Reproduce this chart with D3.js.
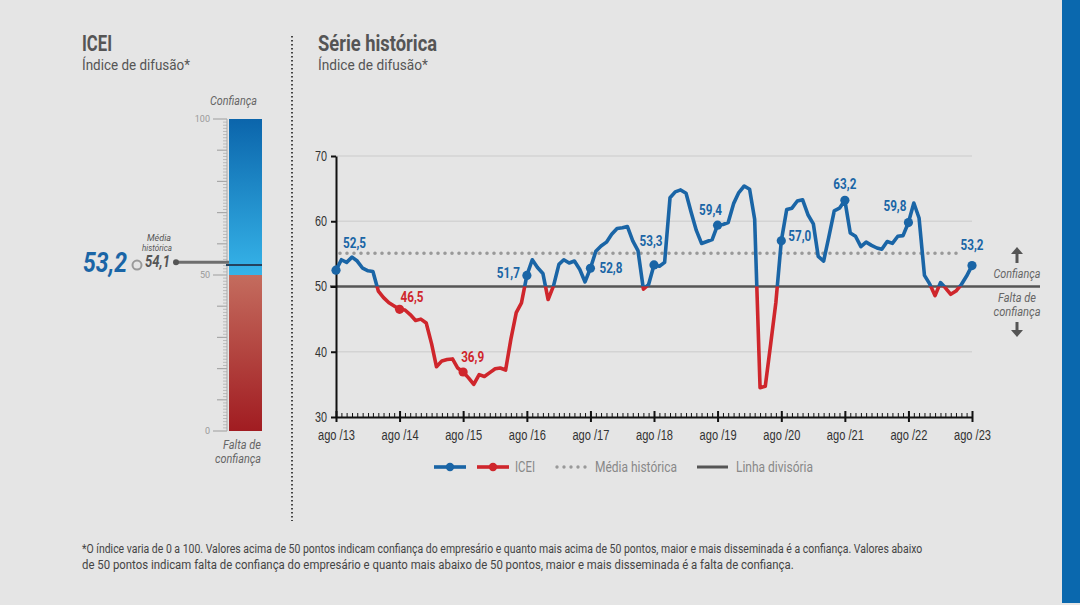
<!DOCTYPE html>
<html>
<head>
<meta charset="utf-8">
<script src="https://cdn.jsdelivr.net/npm/d3@7"></script>
<style>
  html, body { margin: 0; padding: 0; background: #e5e5e5; }
  svg { display: block; font-family: Roboto, "Noto Sans", sans-serif; }
</style>
</head>
<body>
<div id="chart"></div>
<script>
// ICEI series, monthly from ago/2013 to ago/2023
const inicio = new Date(2013, 7, 1);
const icei = [
  52.5, 54.1, 53.7, 54.5, 53.9, 52.8, 52.4, 52.3, 49.3, 48.3, 47.5, 47.0,
  46.5, 46.4, 45.7, 44.8, 45.0, 44.4, 41.2, 37.7, 38.6, 38.8, 38.9, 37.5,
  36.9, 36.0, 35.0, 36.5, 36.2, 36.8, 37.4, 37.5, 37.2, 41.9, 46.0, 47.5,
  51.7, 54.1, 52.9, 52.0, 48.0, 50.1, 53.4, 54.1, 53.6, 53.9, 52.6, 50.7,
  52.8, 55.4, 56.2, 56.8, 58.0, 58.9, 59.0, 59.2, 57.0, 55.5, 49.6, 50.3,
  53.3, 53.1, 53.7, 63.6, 64.5, 64.8, 64.3, 61.5, 58.6, 56.6, 56.9, 57.2,
  59.4, 59.5, 59.8, 62.7, 64.4, 65.4, 64.9, 60.3, 34.5, 34.7, 41.2, 47.6,
  57.0, 61.8, 62.0, 63.1, 63.3, 61.0, 59.6, 54.6, 53.9, 57.6, 61.6, 62.0,
  63.2, 58.2, 57.7, 56.1, 56.8, 56.3, 55.9, 55.7, 56.9, 56.6, 57.7, 57.8,
  59.8, 62.8, 60.5, 51.7, 50.4, 48.6, 50.6, 49.8, 48.8, 49.3, 50.3, 51.6,
  53.2
];
const yTicks = [30, 40, 50, 60, 70];
const gaugeTicks = [0, 50, 100];
const linhaDivisoria = 50;
const mediaGrafico = 55.1;     // dotted line as drawn in the chart
const mediaHistorica = 54.1;   // value shown on the gauge
const valorAtual = 53.2;

// label placement for the August points (layout only)
const rotulos = [
  {i: 0,   dx: 7,  dy: -22, a: "start"},
  {i: 12,  dx: 1,  dy: -7,  a: "start"},
  {i: 24,  dx: -2, dy: -10, a: "start"},
  {i: 36,  dx: -7, dy: 3,   a: "end"},
  {i: 48,  dx: 9,  dy: 5,   a: "start"},
  {i: 60,  dx: -3, dy: -19, a: "middle"},
  {i: 72,  dx: -7, dy: -10, a: "middle"},
  {i: 84,  dx: 7,  dy: 0,   a: "start"},
  {i: 96,  dx: 0,  dy: -11, a: "middle"},
  {i: 108, dx: -2, dy: -12, a: "end"},
  {i: 120, dx: 0,  dy: -16, a: "middle"}
];

const AZUL = "#1a65a6", VERMELHO = "#cf262c", CINZA = "#555";
const fmt = v => d3.format(".1f")(v).replace(".", ",");
// squeeze text to the condensed widths of the original
const aperta = (sel, w) => sel.attr("textLength", w).attr("lengthAdjust", "spacingAndGlyphs");

const data = icei.map((v, i) => ({date: d3.timeMonth.offset(inicio, i), v: v}));

const svg = d3.select("#chart").append("svg")
  .attr("width", 1080).attr("height", 605);

svg.append("rect").attr("width", 1080).attr("height", 605).attr("fill", "#e5e5e5");
svg.append("rect").attr("x", 1062).attr("y", 0).attr("width", 18).attr("height", 603).attr("fill", "#0a68ae");

// ---------- left panel: gauge ----------
svg.append("text").attr("x", 82).attr("y", 51).text("ICEI")
  .style("font-size", "22px").style("font-weight", "bold").attr("fill", "#555").call(aperta, 30);
svg.append("text").attr("x", 82).attr("y", 70).text("Índice de difusão*")
  .style("font-size", "15.5px").attr("fill", "#555").call(aperta, 108);

const gy = d3.scaleLinear().domain([0, 100]).range([431, 119]);
const defs = svg.append("defs");
const gBlue = defs.append("linearGradient").attr("id", "gBlue").attr("x1", 0).attr("x2", 0).attr("y1", 0).attr("y2", 1);
gBlue.append("stop").attr("offset", "0%").attr("stop-color", "#0b65ab");
gBlue.append("stop").attr("offset", "100%").attr("stop-color", "#36b4e9");
const gRed = defs.append("linearGradient").attr("id", "gRed").attr("x1", 0).attr("x2", 0).attr("y1", 0).attr("y2", 1);
gRed.append("stop").attr("offset", "0%").attr("stop-color", "#c46c5e");
gRed.append("stop").attr("offset", "100%").attr("stop-color", "#a11c21");

svg.append("rect").attr("x", 229).attr("y", gy(100)).attr("width", 33)
  .attr("height", gy(linhaDivisoria) - gy(100)).attr("fill", "url(#gBlue)");
svg.append("rect").attr("x", 229).attr("y", gy(linhaDivisoria)).attr("width", 33)
  .attr("height", gy(0) - gy(linhaDivisoria)).attr("fill", "url(#gRed)");

const gaugeAxis = svg.append("g").attr("transform", "translate(227,0)");
gaugeAxis.append("line").attr("y1", gy(0)).attr("y2", gy(100)).attr("stroke", "#a8a8a8").attr("stroke-width", 1);
gaugeAxis.selectAll("line.t").data(d3.range(0, 101)).join("line")
  .attr("class", "t")
  .attr("x1", d => gaugeTicks.includes(d) ? -14 : (d % 10 === 0 ? -10 : -4)).attr("x2", 0)
  .attr("y1", d => gy(d)).attr("y2", d => gy(d))
  .attr("stroke", "#a8a8a8").attr("stroke-width", d => d % 10 === 0 ? 1.2 : 0.7);
gaugeAxis.selectAll("text").data(gaugeTicks).join("text")
  .attr("x", -17).attr("y", d => gy(d) + 3).attr("text-anchor", "end")
  .text(d => d).style("font-size", "9px").attr("fill", "#999");

svg.append("text").attr("x", 210).attr("y", 105).text("Confiança")
  .style("font-size", "12.5px").style("font-style", "italic").attr("fill", "#666").call(aperta, 47);
svg.append("text").attr("x", 223).attr("y", 449).text("Falta de")
  .style("font-size", "12.5px").style("font-style", "italic").attr("fill", "#666").call(aperta, 38);
svg.append("text").attr("x", 215).attr("y", 463).text("confiança")
  .style("font-size", "12.5px").style("font-style", "italic").attr("fill", "#666").call(aperta, 46);

// historical average marker
svg.append("line").attr("x1", 176).attr("x2", 229).attr("y1", gy(mediaHistorica)).attr("y2", gy(mediaHistorica))
  .attr("stroke", "#6e6e6e").attr("stroke-width", 3);
svg.append("circle").attr("cx", 176).attr("cy", gy(mediaHistorica)).attr("r", 3).attr("fill", "#555");
svg.append("line").attr("x1", 226).attr("x2", 262).attr("y1", gy(valorAtual)).attr("y2", gy(valorAtual))
  .attr("stroke", "#24425e").attr("stroke-width", 2);
svg.append("text").attr("x", 147).attr("y", 241).text("Média")
  .style("font-size", "9.5px").style("font-style", "italic").attr("fill", "#555").call(aperta, 24);
svg.append("text").attr("x", 142).attr("y", 251).text("histórica")
  .style("font-size", "9.5px").style("font-style", "italic").attr("fill", "#555").call(aperta, 30);
svg.append("text").attr("x", 145).attr("y", 267).text(fmt(mediaHistorica))
  .style("font-size", "16px").style("font-weight", "bold").style("font-style", "italic").attr("fill", "#555").call(aperta, 25);
svg.append("circle").attr("cx", 137).attr("cy", gy(valorAtual)).attr("r", 4.5)
  .attr("fill", "none").attr("stroke", "#9a9a9a").attr("stroke-width", 2);
svg.append("text").attr("x", 83).attr("y", 272).text(fmt(valorAtual))
  .style("font-size", "27px").style("font-weight", "bold").style("font-style", "italic").attr("fill", AZUL).call(aperta, 44);

// dotted divider
svg.append("line").attr("x1", 292).attr("x2", 292).attr("y1", 36).attr("y2", 521)
  .attr("stroke", "#444").attr("stroke-width", 2).attr("stroke-dasharray", "1.5 2.5");

// ---------- right panel: time series ----------
svg.append("text").attr("x", 318).attr("y", 51).text("Série histórica")
  .style("font-size", "22px").style("font-weight", "bold").attr("fill", "#555").call(aperta, 119);
svg.append("text").attr("x", 318).attr("y", 70).text("Índice de difusão*")
  .style("font-size", "15.5px").attr("fill", "#555").call(aperta, 110);

const x = d3.scaleTime().domain([data[0].date, data[data.length - 1].date]).range([336, 972]);
const y = d3.scaleLinear().domain([30, 70]).range([417, 156]);

// gridlines
svg.append("g").selectAll("line").data(yTicks.filter(d => d !== 30 && d !== linhaDivisoria)).join("line")
  .attr("x1", 336).attr("x2", 972).attr("y1", d => y(d)).attr("y2", d => y(d))
  .attr("stroke", "#d3d3d3").attr("stroke-width", 1.5);

// historical average (dotted)
svg.append("line").attr("x1", 340).attr("x2", 960).attr("y1", y(mediaGrafico)).attr("y2", y(mediaGrafico))
  .attr("stroke", "#999").attr("stroke-width", 3.6).attr("stroke-linecap", "round").attr("stroke-dasharray", "0 7");

// dividing line at 50
svg.append("line").attr("x1", 330).attr("x2", 1040).attr("y1", y(linhaDivisoria)).attr("y2", y(linhaDivisoria))
  .attr("stroke", CINZA).attr("stroke-width", 2.5);

// y axis
const yAxis = svg.append("g").attr("transform", "translate(336,0)")
  .call(d3.axisLeft(y).tickValues(yTicks).tickSize(5).tickSizeOuter(0));
yAxis.select(".domain").attr("stroke", "#111").attr("stroke-width", 2);
yAxis.selectAll(".tick line").attr("stroke", "#111").attr("stroke-width", 2);
yAxis.selectAll(".tick text").attr("x", -9).style("font-size", "14px").style("font-family", "inherit").attr("fill", "#333")
  .call(aperta, 12);

// x axis: monthly minor ticks, yearly major ticks
const agostos = data.filter(d => d.date.getMonth() === 7).map(d => d.date);
const xMinor = svg.append("g").attr("transform", "translate(0,417)")
  .call(d3.axisBottom(x).tickValues(data.map(d => d.date)).tickSize(-4).tickSizeOuter(0).tickFormat(""));
xMinor.select(".domain").attr("stroke", "#111").attr("stroke-width", 2);
xMinor.selectAll(".tick line").attr("stroke", "#111").attr("stroke-width", 1);
const xMajor = svg.append("g").attr("transform", "translate(0,417)")
  .call(d3.axisBottom(x).tickValues(agostos).tickSize(5).tickFormat(d => "ago /" + d3.timeFormat("%y")(d)));
xMajor.select(".domain").remove();
xMajor.selectAll(".tick line").attr("y1", -6).attr("y2", 5).attr("stroke", "#111").attr("stroke-width", 2);
xMajor.selectAll(".tick text").attr("y", 13).style("font-size", "14px").style("font-family", "inherit").attr("fill", "#333")
  .call(aperta, 37);

// series line, split colour at 50
defs.append("clipPath").attr("id", "acima").append("rect")
  .attr("x", 0).attr("y", 0).attr("width", 1080).attr("height", y(linhaDivisoria));
defs.append("clipPath").attr("id", "abaixo").append("rect")
  .attr("x", 0).attr("y", y(linhaDivisoria)).attr("width", 1080).attr("height", 605);
const linha = d3.line().x(d => x(d.date)).y(d => y(d.v));
[["acima", AZUL], ["abaixo", VERMELHO]].forEach(([clip, cor]) => {
  svg.append("path").datum(data).attr("d", linha).attr("clip-path", `url(#${clip})`)
    .attr("fill", "none").attr("stroke", cor).attr("stroke-width", 3.6)
    .attr("stroke-linejoin", "round");
});

// highlighted points and labels
const marcados = rotulos.map(r => Object.assign({}, r, data[r.i]));
svg.append("g").selectAll("circle").data(marcados).join("circle")
  .attr("cx", d => x(d.date)).attr("cy", d => y(d.v)).attr("r", 4.6)
  .attr("fill", d => d.v >= linhaDivisoria ? AZUL : VERMELHO);
svg.append("g").selectAll("text").data(marcados).join("text")
  .attr("x", d => x(d.date) + d.dx).attr("y", d => y(d.v) + d.dy)
  .attr("text-anchor", d => d.a).text(d => fmt(d.v))
  .style("font-size", "15px").style("font-weight", "bold")
  .attr("fill", d => d.v >= linhaDivisoria ? AZUL : VERMELHO)
  .call(aperta, 23);

// confidence arrows on the right
function seta(cx, yTopo, yBase, paraCima) {
  const p = d3.path();
  const ponta = paraCima ? yTopo : yBase;
  const dir = paraCima ? 1 : -1;
  p.moveTo(cx, ponta); p.lineTo(cx - 6, ponta + dir * 7); p.lineTo(cx + 6, ponta + dir * 7); p.closePath();
  svg.append("path").attr("d", p.toString()).attr("fill", CINZA);
  svg.append("line").attr("x1", cx).attr("x2", cx).attr("y1", ponta + dir * 6).attr("y2", paraCima ? yBase : yTopo)
    .attr("stroke", CINZA).attr("stroke-width", 3);
}
seta(1017, 247, 263, true);
seta(1017, 322, 337, false);
[["Confiança", 278, 47], ["Falta de", 302, 38], ["confiança", 316, 47]].forEach(([t, yy, w]) => {
  svg.append("text").attr("x", 1017).attr("y", yy).attr("text-anchor", "middle").text(t)
    .style("font-size", "12.5px").style("font-style", "italic").attr("fill", "#666").call(aperta, w);
});

// legend
const leg = svg.append("g").attr("transform", "translate(0,467)");
[[434, AZUL], [477, VERMELHO]].forEach(([lx, cor]) => {
  leg.append("line").attr("x1", lx).attr("x2", lx + 32).attr("stroke", cor).attr("stroke-width", 3.6);
  leg.append("circle").attr("cx", lx + 16).attr("r", 4.2).attr("fill", cor);
});
leg.append("text").attr("x", 515).attr("y", 5).text("ICEI").style("font-size", "14px").attr("fill", "#888").call(aperta, 20);
leg.append("line").attr("x1", 557).attr("x2", 588).attr("stroke", "#999").attr("stroke-width", 3.4)
  .attr("stroke-linecap", "round").attr("stroke-dasharray", "0 7");
leg.append("text").attr("x", 595).attr("y", 5).text("Média histórica").style("font-size", "14px").attr("fill", "#888").call(aperta, 82);
leg.append("line").attr("x1", 697).attr("x2", 728).attr("stroke", CINZA).attr("stroke-width", 3);
leg.append("text").attr("x", 736).attr("y", 5).text("Linha divisória").style("font-size", "14px").attr("fill", "#888").call(aperta, 77);

// footnote: each line scaled horizontally to the width it has in the original
const nota = [
  "*O índice varia de 0 a 100. Valores acima de 50 pontos indicam confiança do empresário e quanto mais acima de 50 pontos, maior e mais disseminada é a confiança. Valores abaixo",
  "de 50 pontos indicam falta de confiança do empresário e quanto mais abaixo de 50 pontos, maior e mais disseminada é a falta de confiança."
];
const larguraNota = [841, 712];
svg.append("g").selectAll("g").data(nota).join("g")
  .attr("transform", (d, i) => `translate(82,${553 + i * 16})`)
  .each(function(d, i) {
    const t = d3.select(this).append("text").text(d).style("font-size", "13px").attr("fill", "#444");
    const w = t.node().getComputedTextLength();
    d3.select(this).attr("transform", `translate(82,${553 + i * 16}) scale(${larguraNota[i] / w},1)`);
  });
</script>
</body>
</html>
